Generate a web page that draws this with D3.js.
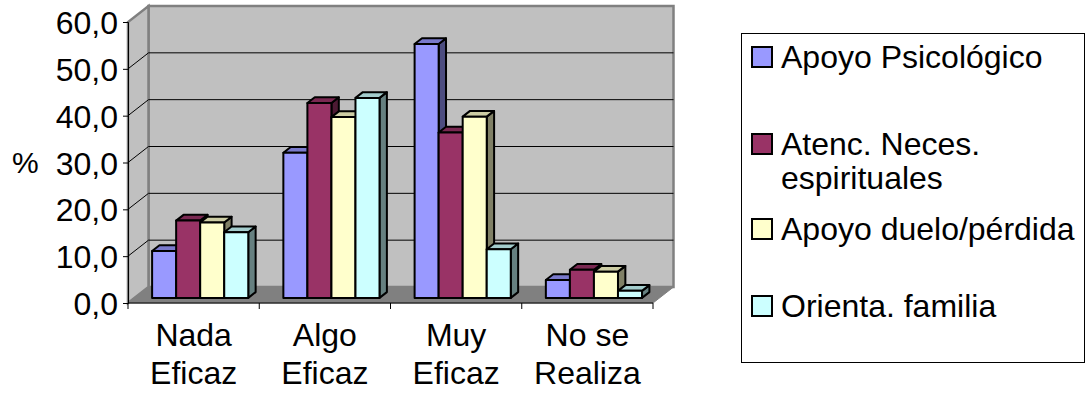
<!DOCTYPE html>
<html>
<head>
<meta charset="utf-8">
<script src="https://cdn.jsdelivr.net/npm/d3@7"></script>
<style>
  body { margin: 0; background: #fff; }
  svg { display: block; }
  text { font-family: "Liberation Sans", Arial, sans-serif; fill: #000; }
</style>
</head>
<body>
<svg id="chart" width="1087" height="393"></svg>
<script>
// ---- data ----
const categories = [["Nada", "Eficaz"], ["Algo", "Eficaz"], ["Muy", "Eficaz"], ["No se", "Realiza"]];
const seriesNames = ["Apoyo Psicológico", "Atenc. Neces. espirituales", "Apoyo duelo/pérdida", "Orienta. familia"];
const legendLines = [["Apoyo Psicológico"], ["Atenc. Neces.", "espirituales"], ["Apoyo duelo/pérdida"], ["Orienta. familia"]];
const apoyoPsicologico  = [10.0, 31.0, 54.2, 3.8];
const atencEspirituales = [16.5, 41.6, 35.3, 6.0];
const apoyoDuelo        = [16.1, 38.6, 38.7, 5.6];
const orientaFamilia    = [14.0, 42.7, 10.4, 1.5];
const seriesValues = [apoyoPsicologico, atencEspirituales, apoyoDuelo, orientaFamilia];
const seriesColors = ["#9999ff", "#993366", "#ffffcc", "#ccffff"];
const yTicks = [0, 10, 20, 30, 40, 50, 60];
const yTickLabels = ["0,0", "10,0", "20,0", "30,0", "40,0", "50,0", "60,0"];
const yAxisTitle = "%";

// ---- layout ----
const FS = 32;
const svg = d3.select("#chart");
const depth = { dx: 20.5, dy: -16 };          // full depth of the plot box
const y = d3.scaleLinear().domain([0, 60]).range([303, 22]);
const x0 = d3.scaleBand().domain(d3.range(categories.length)).range([128, 653]);
const x1 = d3.scaleBand().domain(d3.range(seriesNames.length)).range([0, x0.bandwidth()]).paddingOuter(0.73);
const barT0 = 0.32, barT1 = 0.68;              // bar front / back depth fraction
const xL = x0.range()[0], xR = x0.range()[1];

// oblique projection: x on front plane, value, depth fraction
const P = (x, v, t) => [x + t * depth.dx, y(v) + t * depth.dy];
const poly = pts => "M" + pts.map(p => p.join(",")).join("L") + "Z";
const shade = (c, f) => { const k = d3.rgb(c); return d3.rgb(k.r * f, k.g * f, k.b * f).formatHex(); };

const vMax = y.domain()[1];

// back wall
svg.append("path")
  .attr("d", poly([P(xL, 0, 1), P(xR, 0, 1), P(xR, vMax, 1), P(xL, vMax, 1)]))
  .attr("fill", "#c0c0c0").attr("stroke", "#808080").attr("stroke-width", 2.5);

// left wall
svg.append("path")
  .attr("d", poly([P(xL, 0, 0), P(xL, vMax, 0), P(xL, vMax, 1), P(xL, 0, 1)]))
  .attr("fill", "#c0c0c0").attr("stroke", "#808080").attr("stroke-width", 2.5);

// floor
svg.append("path")
  .attr("d", poly([P(xL, 0, 0), P(xR, 0, 0), P(xR, 0, 1), P(xL, 0, 1)]))
  .attr("fill", "#808080").attr("stroke", "#808080").attr("stroke-width", 1);

// gridlines on back wall and left wall
const inner = yTicks.filter(v => v > 0 && v < vMax);
svg.append("g").selectAll("path").data(inner).join("path")
  .attr("d", v => "M" + P(xL, v, 1).join(",") + "L" + P(xR, v, 1).join(","))
  .attr("stroke", "#000").attr("stroke-width", 1).attr("fill", "none");
svg.append("g").selectAll("path").data(inner).join("path")
  .attr("d", v => "M" + P(xL, v, 0).join(",") + "L" + P(xL, v, 1).join(","))
  .attr("stroke", "#000").attr("stroke-width", 1).attr("fill", "none");

// value axis
const yAxis = d3.axisLeft(y).tickValues(yTicks).tickSize(5).tickPadding(5)
  .tickFormat((d, i) => yTickLabels[i]);
const gy = svg.append("g").attr("transform", `translate(${xL},0)`).call(yAxis);
gy.select(".domain").attr("stroke", "#000").attr("stroke-width", 1);
gy.selectAll(".tick line").attr("stroke", "#000");
gy.selectAll(".tick text").attr("font-size", FS).attr("font-family", null).attr("dy", "0.36em");

svg.append("text").attr("x", 12).attr("y", (y(0) + y(vMax)) / 2).attr("dy", "0.36em")
  .attr("font-size", 30).text(yAxisTitle);

// category axis
svg.append("line").attr("x1", xL).attr("x2", xR).attr("y1", y(0)).attr("y2", y(0))
  .attr("stroke", "#000").attr("stroke-width", 1);
const bounds = x0.domain().map(i => x0(i)).concat([xR]);
svg.append("g").selectAll("line").data(bounds).join("line")
  .attr("x1", d => d).attr("x2", d => d).attr("y1", y(0)).attr("y2", y(0) + 6)
  .attr("stroke", "#000");
const catText = svg.append("g").selectAll("text").data(categories).join("text")
  .attr("x", (d, i) => x0(i) + x0.bandwidth() / 2).attr("text-anchor", "middle").attr("font-size", FS);
catText.selectAll("tspan").data(d => d).join("tspan")
  .attr("x", function () { return this.parentNode.getAttribute("x"); })
  .attr("y", (d, k) => 346 + k * 38).text(d => d);

// bars: painted left to right so each bar hides its left neighbour's side
const bars = [];
categories.forEach((c, i) => seriesValues.forEach((vals, j) => bars.push({ i, j, v: vals[i] })));
const gb = svg.append("g").attr("stroke", "#000").attr("stroke-width", 2).attr("stroke-linejoin", "round");
bars.forEach(b => {
  const xa = x0(b.i) + x1(b.j), xb = xa + x1.bandwidth(), col = seriesColors[b.j];
  const g = gb.append("g");
  g.append("path").attr("fill", shade(col, 0.5))
    .attr("d", poly([P(xb, 0, barT0), P(xb, 0, barT1), P(xb, b.v, barT1), P(xb, b.v, barT0)]));
  g.append("path").attr("fill", shade(col, 0.8))
    .attr("d", poly([P(xa, b.v, barT0), P(xb, b.v, barT0), P(xb, b.v, barT1), P(xa, b.v, barT1)]));
  g.append("path").attr("fill", col)
    .attr("d", poly([P(xa, 0, barT0), P(xb, 0, barT0), P(xb, b.v, barT0), P(xa, b.v, barT0)]));
});

// legend
const lg = svg.append("g");
lg.append("rect").attr("x", 741.5).attr("y", 33.5).attr("width", 343).attr("height", 329)
  .attr("fill", "#fff").attr("stroke", "#000").attr("stroke-width", 1);
const legendBaselines = [68, 155, 240, 317];
const items = lg.selectAll("g.item").data(seriesNames).join("g").attr("class", "item");
items.append("rect").attr("x", 752).attr("y", (d, i) => legendBaselines[i] - 21)
  .attr("width", 20).attr("height", 20)
  .attr("fill", (d, i) => seriesColors[i]).attr("stroke", "#000").attr("stroke-width", 2);
items.append("text").attr("font-size", FS)
  .selectAll("tspan").data((d, i) => legendLines[i].map((s, k) => ({ s, k, i }))).join("tspan")
  .attr("x", 781).attr("y", d => legendBaselines[d.i] + d.k * 34).text(d => d.s);
</script>
</body>
</html>
